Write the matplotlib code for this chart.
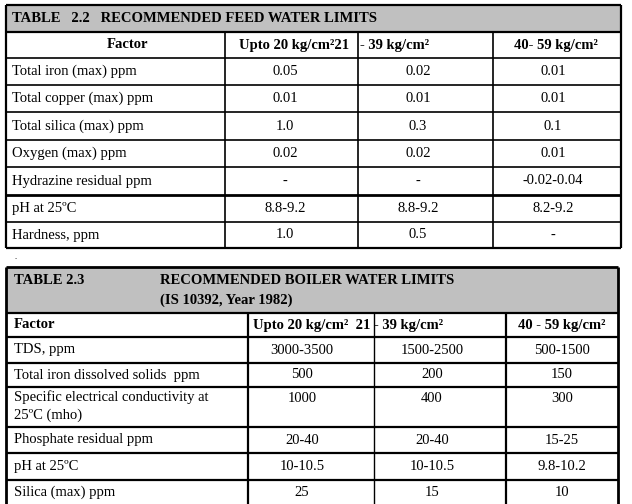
import matplotlib
matplotlib.use("Agg")
import matplotlib.pyplot as plt
from matplotlib.patches import Rectangle

plt.rcParams['font.family'] = ['Liberation Serif', 'DejaVu Serif']

t1_title = "TABLE   2.2   RECOMMENDED FEED WATER LIMITS"
t1_factors = ["Total iron (max) ppm", "Total copper (max) ppm", "Total silica (max) ppm",
              "Oxygen (max) ppm", "Hydrazine residual ppm", "pH at 25ºC", "Hardness, ppm"]
t1_c1 = ["0.05", "0.01", "1.0", "0.02", "-", "8.8-9.2", "1.0"]
t1_c2 = ["0.02", "0.01", "0.3", "0.02", "-", "8.8-9.2", "0.5"]
t1_c3 = ["0.01", "0.01", "0.1", "0.01", "-0.02-0.04", "8.2-9.2", "-"]

t2_title = "TABLE 2.3"
t2_title2 = "RECOMMENDED BOILER WATER LIMITS"
t2_sub = "(IS 10392, Year 1982)"
t2_factors = ["TDS, ppm", "Total iron dissolved solids  ppm",
              "Specific electrical conductivity at\n25ºC (mho)", "Phosphate residual ppm",
              "pH at 25ºC", "Silica (max) ppm"]
t2_c1 = ["3000-3500", "500", "1000", "20-40", "10-10.5", "25"]
t2_c2 = ["1500-2500", "200", "400", "20-40", "10-10.5", "15"]
t2_c3 = ["500-1500", "150", "300", "15-25", "9.8-10.2", "10"]

fig = plt.figure(figsize=(6.32, 5.04), dpi=100)
ax = fig.add_axes([0, 0, 1, 1])
ax.set_xlim(0, 632); ax.set_ylim(504, 0); ax.axis('off')
fs = 10.5
lw = 1.2

def hl(y, x0, x1, w=lw):
    ax.plot([x0, x1], [y, y], color='black', lw=w, solid_capstyle='butt')
def vl(x, y0, y1, w=lw):
    ax.plot([x, x], [y0, y1], color='black', lw=w, solid_capstyle='butt')

# ---- Table 1
L, R = 6, 621
ax.add_patch(Rectangle((L, 5), R - L, 27, facecolor='#c0c0c0', edgecolor='none'))
ax.text(12, 18.5, t1_title, fontsize=fs, fontweight='bold', va='center')
rows1 = [58, 85, 112, 140, 167, 195, 222, 248]
hl(5, L, R, 1.6); hl(32, L, R, 1.6)
for y in rows1[:-1]:
    hl(y, L, R, 2 if y == 195 else lw)
hl(248, L, R, 1.6)
vl(L, 5, 248, 1.6); vl(R, 5, 248, 1.6)
for x in [225, 358, 493]:
    vl(x, 32, 248)
ax.text(127, 45, "Factor", fontsize=fs, fontweight='bold', ha='center', va='center')
ax.text(239, 45, "Upto 20 kg/cm²21", fontsize=fs, fontweight='bold', va='center')
ax.text(360, 45, "- 39 kg/cm²", fontsize=fs, fontweight='bold', va='center')
ax.text(556, 45, "40- 59 kg/cm²", fontsize=fs, fontweight='bold', ha='center', va='center')
for i in range(len(t1_factors)):
    yc = (rows1[i] + rows1[i + 1]) / 2
    ax.text(12, yc, t1_factors[i], fontsize=fs, va='center')
    ax.text(285, yc, t1_c1[i], fontsize=fs, ha='center', va='center')
    ax.text(418, yc, t1_c2[i], fontsize=fs, ha='center', va='center')
    ax.text(553, yc, t1_c3[i], fontsize=fs, ha='center', va='center')

ax.text(14, 259, ".", fontsize=6)

# ---- Table 2
L2, R2 = 6, 618
ax.add_patch(Rectangle((L2, 267), R2 - L2, 46, facecolor='#c0c0c0', edgecolor='none'))
ax.text(14, 281, t2_title, fontsize=fs, fontweight='bold', va='center')
ax.text(160, 281, t2_title2, fontsize=fs, fontweight='bold', va='center')
ax.text(160, 300, t2_sub, fontsize=fs, fontweight='bold', va='center')
rows2 = [337, 363, 387, 427, 453, 480, 504]
hl(267, L2, R2, 2); hl(313, L2, R2, 1.6)
for y in rows2[:-1]:
    hl(y, L2, R2, 1.6)
vl(L2, 267, 504, 2); vl(R2, 267, 504, 2)
vl(248, 313, 504, 1.6); vl(506, 313, 504, 1.6)
vl(374, 313, 504, 1)
ax.text(14, 325, "Factor", fontsize=fs, fontweight='bold', va='center')
ax.text(253, 325, "Upto 20 kg/cm²  21 - 39 kg/cm²", fontsize=fs, fontweight='bold', va='center')
ax.text(562, 325, "40 - 59 kg/cm²", fontsize=fs, fontweight='bold', ha='center', va='center')
for i in range(len(t2_factors)):
    y0, y1 = rows2[i], rows2[i + 1]
    if i == 2:
        ax.text(14, y0 + 3, t2_factors[i], fontsize=fs, va='top', linespacing=1.45)
        yc = y0 + 11
    else:
        yc = (y0 + y1) / 2
        ax.text(14, yc, t2_factors[i], fontsize=fs, va='center')
    ax.text(302, yc, t2_c1[i], fontsize=fs, ha='center', va='center')
    ax.text(432, yc, t2_c2[i], fontsize=fs, ha='center', va='center')
    ax.text(562, yc, t2_c3[i], fontsize=fs, ha='center', va='center')

fig.savefig("out.png", dpi=100)
